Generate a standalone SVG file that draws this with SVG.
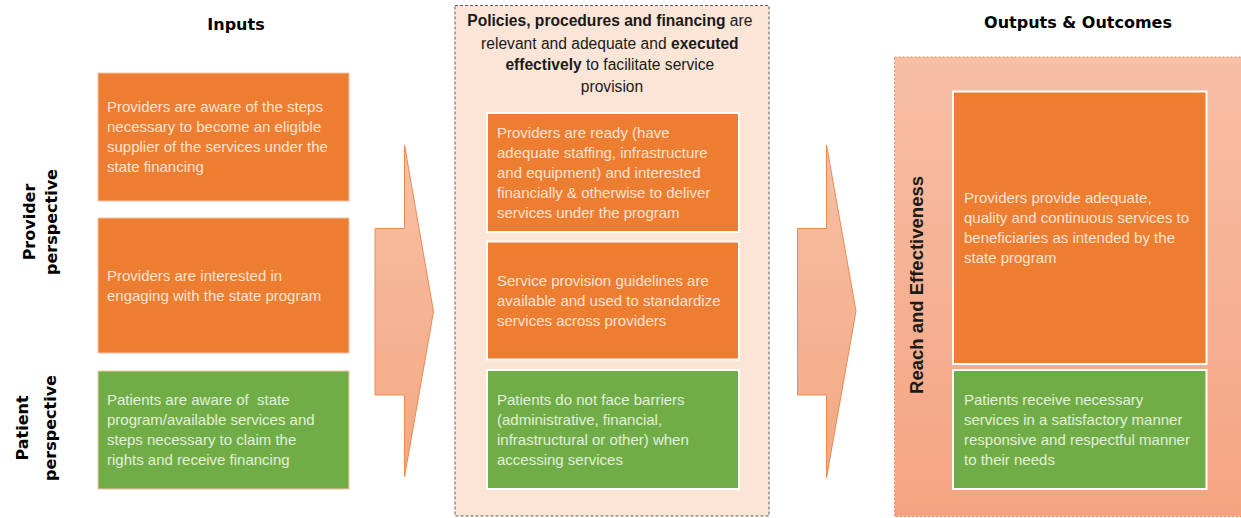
<svg xmlns="http://www.w3.org/2000/svg" width="1241" height="518" viewBox="0 0 1241 518">
  <defs>
    <linearGradient id="arrowFill" x1="0" y1="0" x2="0" y2="1">
      <stop offset="0" stop-color="#f6c0a4"/>
      <stop offset="1" stop-color="#f4a882"/>
    </linearGradient>
    <linearGradient id="outFill" x1="0" y1="0" x2="0" y2="1">
      <stop offset="0" stop-color="#f7bfa5"/>
      <stop offset="1" stop-color="#f5a481"/>
    </linearGradient>
    <style>
      .head { font-family: "DejaVu Sans", sans-serif; font-weight: bold; font-size: 16px; fill: #000; }
      .side { font-family: "DejaVu Sans", sans-serif; font-weight: bold; font-size: 16px; fill: #000; text-anchor: middle; }
      .intro { font-family: "Liberation Sans", sans-serif; font-size: 15.6px; fill: #1a1a1a; text-anchor: middle; }
      .intro .b { font-weight: bold; }
      .txt { font-family: "Liberation Sans", sans-serif; font-size: 15px; }
      .org { fill: #ed7d31; }
      .grn { fill: #70ad47; }
      .edge { stroke: #f6c5a6; stroke-width: 1; }
      .white { stroke: #ffffff; stroke-width: 2; }
      .on-org { fill: #fce3d2; }
      .on-grn { fill: #e3f0da; }
      .arrow { fill: url(#arrowFill); stroke: #ee8a4f; stroke-width: 1; }
    </style>
  </defs>

  <!-- column headings -->
  <text class="head" x="236" y="30" text-anchor="middle">Inputs</text>
  <text class="head" x="1078" y="28" text-anchor="middle">Outputs &amp; Outcomes</text>

  <!-- row labels -->
  <g id="provider-label">
    <text class="side" transform="translate(35,222) rotate(-90)">Provider</text>
    <text class="side" transform="translate(57,222) rotate(-90)">perspective</text>
  </g>
  <g id="patient-label">
    <text class="side" transform="translate(28,428) rotate(-90)">Patient</text>
    <text class="side" transform="translate(56,428) rotate(-90)">perspective</text>
  </g>

  <!-- inputs column -->
  <g id="input-steps">
    <rect class="org edge" x="98" y="73" width="251" height="128"/>
    <text class="txt on-org">
      <tspan x="107" y="112">Providers are aware of the steps</tspan>
      <tspan x="107" y="132">necessary to become an eligible</tspan>
      <tspan x="107" y="152">supplier of the services under the</tspan>
      <tspan x="107" y="172">state financing</tspan>
    </text>
  </g>
  <g id="input-interest">
    <rect class="org edge" x="98" y="218" width="251" height="135"/>
    <text class="txt on-org">
      <tspan x="107" y="281">Providers are interested in</tspan>
      <tspan x="107" y="301">engaging with the state program</tspan>
    </text>
  </g>
  <g id="input-patients">
    <rect class="grn edge" x="98" y="371" width="251" height="118"/>
    <text class="txt on-grn">
      <tspan x="107" y="405">Patients are aware of&#160; state</tspan>
      <tspan x="107" y="425">program/available services and</tspan>
      <tspan x="107" y="445">steps necessary to claim the</tspan>
      <tspan x="107" y="465">rights and receive financing</tspan>
    </text>
  </g>

  <!-- flow arrows between columns -->
  <g id="connectors">
    <path class="arrow" d="M375,228.5 H404.5 V145 L433.5,311.5 L404.5,477 V395 H375 Z"/>
    <path class="arrow" d="M797.5,228.5 H826.5 V145 L856,311 L826.5,478 V395 H797.5 Z"/>
  </g>

  <!-- process column -->
  <g id="process">
    <rect x="455" y="5.5" width="314" height="510.5" fill="#fbe5d6" stroke="#5a5a5a" stroke-width="1" stroke-dasharray="3,2"/>
    <text class="intro">
      <tspan x="612" y="26"><tspan class="b">Policies, procedures and financing</tspan> are</tspan>
      <tspan x="612" y="49">relevant and adequate and <tspan class="b">executed</tspan></tspan>
      <tspan x="612" y="70"><tspan class="b">effectively</tspan> to facilitate service</tspan>
      <tspan x="612" y="92">provision</tspan>
    </text>
  </g>
  <g id="process-ready">
    <rect class="org white" x="487" y="113" width="252" height="119"/>
    <text class="txt on-org">
      <tspan x="497" y="138">Providers are ready (have</tspan>
      <tspan x="497" y="158">adequate staffing, infrastructure</tspan>
      <tspan x="497" y="178">and equipment) and interested</tspan>
      <tspan x="497" y="198">financially &amp; otherwise to deliver</tspan>
      <tspan x="497" y="218">services under the program</tspan>
    </text>
  </g>
  <g id="process-guidelines">
    <rect class="org white" x="487" y="241.5" width="252" height="118"/>
    <text class="txt on-org">
      <tspan x="497" y="286">Service provision guidelines are</tspan>
      <tspan x="497" y="306">available and used to standardize</tspan>
      <tspan x="497" y="326">services across providers</tspan>
    </text>
  </g>
  <g id="process-barriers">
    <rect class="grn white" x="487" y="370" width="252" height="119"/>
    <text class="txt on-grn">
      <tspan x="497" y="405">Patients do not face barriers</tspan>
      <tspan x="497" y="425">(administrative, financial,</tspan>
      <tspan x="497" y="445">infrastructural or other) when</tspan>
      <tspan x="497" y="465">accessing services</tspan>
    </text>
  </g>

  <!-- outcomes column -->
  <g id="outcomes">
    <rect x="894.5" y="57" width="350" height="459.5" fill="url(#outFill)" stroke="#f0955e" stroke-width="1" stroke-dasharray="2,2"/>
    <text font-family="'Liberation Sans', sans-serif" font-weight="bold" font-size="18.5" fill="#1a1a1a" text-anchor="middle" transform="translate(923,285) rotate(-90)">Reach and Effectiveness</text>
  </g>
  <g id="outcome-providers">
    <rect class="org white" x="953" y="91.5" width="253.5" height="272.5"/>
    <text class="txt on-org">
      <tspan x="964" y="203">Providers provide adequate,</tspan>
      <tspan x="964" y="223">quality and continuous services to</tspan>
      <tspan x="964" y="243">beneficiaries as intended by the</tspan>
      <tspan x="964" y="263">state program</tspan>
    </text>
  </g>
  <g id="outcome-patients">
    <rect class="grn white" x="953" y="370" width="253.5" height="119"/>
    <text class="txt on-grn">
      <tspan x="964" y="405">Patients receive necessary</tspan>
      <tspan x="964" y="425">services in a satisfactory manner</tspan>
      <tspan x="964" y="445">responsive and respectful manner</tspan>
      <tspan x="964" y="465">to their needs</tspan>
    </text>
  </g>
</svg>
